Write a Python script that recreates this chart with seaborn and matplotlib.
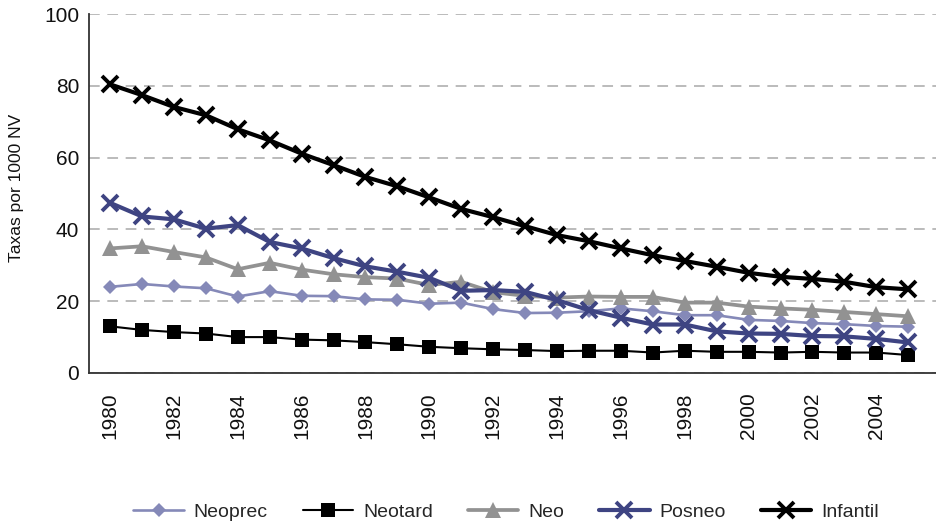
"""Taxas de mortalidade infantil e componentes, 1980-2005 (por 1000 NV)."""
import matplotlib; matplotlib.use("Agg")
import matplotlib.pyplot as plt
from matplotlib.ticker import FixedLocator
import numpy as np
import seaborn as sns

# ── data ──────────────────────────────────────────────────────────────────────
YEARS = list(range(1980, 2006))
NEOPREC = [24.0, 24.8, 24.1, 23.6, 21.3, 22.8, 21.5, 21.4, 20.5, 20.4, 19.3, 19.6, 17.8,
           16.7, 16.8, 17.2, 18.0, 17.2, 16.1, 16.1, 14.8, 14.5, 13.9, 13.6, 13.1, 12.9]
NEOTARD = [13.0, 12.0, 11.4, 11.0, 10.0, 10.0, 9.3, 9.1, 8.6, 8.0, 7.3, 6.9, 6.6,
           6.4, 6.1, 6.2, 6.2, 5.7, 6.2, 5.9, 5.9, 5.7, 5.9, 5.7, 5.7, 5.0]
NEO = [34.7, 35.3, 33.7, 32.2, 28.9, 30.7, 28.8, 27.5, 26.7, 26.3, 24.5, 25.4, 22.5,
       21.5, 21.0, 21.3, 21.2, 21.2, 19.6, 19.6, 18.5, 18.0, 17.6, 17.0, 16.4, 15.8]
POSNEO = [47.4, 43.6, 42.8, 40.2, 41.2, 36.5, 34.7, 32.0, 29.7, 28.2, 26.5, 22.9, 23.1,
          22.6, 20.3, 17.5, 15.4, 13.5, 13.5, 11.6, 11.0, 10.9, 10.3, 10.2, 9.5, 8.5]
INFANTIL = [80.4, 77.4, 74.1, 71.8, 67.9, 64.8, 61.1, 57.9, 54.6, 52.0, 48.9, 45.7, 43.4,
            40.9, 38.4, 36.7, 34.7, 32.8, 31.2, 29.6, 27.9, 26.8, 26.2, 25.4, 23.9, 23.3]
YTICKS = [0, 20, 40, 60, 80, 100]
XLABEL_YEARS = list(range(1980, 2005, 2))

# ── styles ────────────────────────────────────────────────────────────────────
SERIES = [
    ("Neoprec",  NEOPREC,  dict(color="#8589b8", marker="D", ms=7,  lw=1.9, mew=0)),
    ("Neotard",  NEOTARD,  dict(color="#000000", marker="s", ms=10, lw=1.5, mew=0)),
    ("Neo",      NEO,      dict(color="#929292", marker="^", ms=12, lw=2.7, mew=0)),
    ("Posneo",   POSNEO,   dict(color="#3e4482", marker="x", ms=12, lw=3.0, mew=2.8)),
    ("Infantil", INFANTIL, dict(color="#000000", marker="x", ms=12, lw=3.0, mew=2.8)),
]

sns.set_theme(style="white")
plt.rcParams["font.family"] = ["Liberation Sans", "DejaVu Sans"]

fig = plt.figure(figsize=(9.37, 5.24), dpi=100)
ax = fig.add_axes([89 / 937, 1 - 373 / 524, (937 - 89) / 937, (373 - 14) / 524])

for name, vals, st in SERIES:
    sns.lineplot(x=YEARS, y=vals, ax=ax, label=name, color=st["color"],
                 marker=st["marker"], markersize=st["ms"], linewidth=st["lw"],
                 markeredgewidth=st["mew"], markeredgecolor=st["color"])

ax.set_ylim(0, 100)
ax.set_xlim(1979.34, 2005.9)
ax.set_yticks(YTICKS)
ax.set_yticklabels([str(v) for v in YTICKS])
ax.tick_params(axis="y", length=0, pad=7, labelsize=15, labelcolor="#111111")

ax.xaxis.set_major_locator(FixedLocator(XLABEL_YEARS))
ax.set_xticklabels([str(y) for y in XLABEL_YEARS], rotation=90)
ax.xaxis.set_minor_locator(FixedLocator(np.arange(1980.5, 2006, 1.0)))
ax.tick_params(axis="x", which="major", length=0, pad=14, labelsize=15, labelcolor="#111111")
ax.tick_params(axis="x", which="minor", length=12, width=1.2, color="#333333", direction="out")

ax.yaxis.grid(True, linestyle=(0, (7, 5)), color="#a8a8a8", linewidth=1.1)
ax.xaxis.grid(False)
for s in ["top", "right"]:
    ax.spines[s].set_visible(False)
for s in ["left", "bottom"]:
    ax.spines[s].set_color("#333333")
    ax.spines[s].set_linewidth(1.3)

ax.set_xlabel("")
ax.set_ylabel("Taxas por 1000 NV", fontsize=12.5, color="#111111")
ax.yaxis.set_label_coords(-0.077, 0.515)

handles, labels = ax.get_legend_handles_labels()
ax.get_legend().remove()
fig.legend(handles, labels, loc="center", bbox_to_anchor=(506 / 937, 1 - 512 / 524),
           ncol=5, frameon=False, fontsize=14, handlelength=2.6,
           columnspacing=1.8, handletextpad=0.5)

fig.savefig("out.png", dpi=100)
